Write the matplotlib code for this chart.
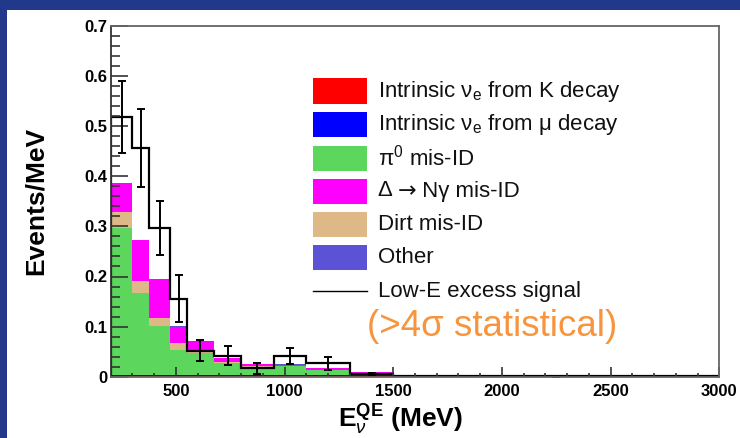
import matplotlib
matplotlib.use("Agg")
import matplotlib.pyplot as plt
from matplotlib.patches import Rectangle
from matplotlib.lines import Line2D
import numpy as np

plt.rcParams['font.family'] = ['Liberation Sans', 'DejaVu Sans']
plt.rcParams['mathtext.fontset'] = 'custom'
plt.rcParams['mathtext.rm'] = 'Liberation Sans'
plt.rcParams['mathtext.it'] = 'Liberation Sans:italic'
plt.rcParams['mathtext.bf'] = 'Liberation Sans:bold'

# ---- data ----
edges = [200, 300, 375, 475, 550, 675, 800, 950, 1100, 1300, 1500, 3000]
k_decay = [0.001] * 11
mu_decay = [0.002] * 11
pi0 = [0.293, 0.165, 0.098, 0.050, 0.044, 0.025, 0.017, 0.018, 0.010, 0.003, 0.0]
dirt = [0.033, 0.023, 0.017, 0.014, 0.003, 0.001, 0.001, 0.001, 0.001, 0.001, 0.0]
delta = [0.058, 0.081, 0.077, 0.033, 0.020, 0.008, 0.004, 0.002, 0.003, 0.002, 0.0]
other = [0.0005] * 10 + [0.0]
excess = [0.518, 0.456, 0.297, 0.156, 0.052, 0.042, 0.017, 0.042, 0.027, 0.005, 0.0005]
excess_err = [0.072, 0.078, 0.054, 0.046, 0.021, 0.019, 0.011, 0.016, 0.013, 0.002, 0.001]

labels = [r"Intrinsic ν$_\mathrm{e}$ from K decay",
          r"Intrinsic ν$_\mathrm{e}$ from μ decay",
          r"π$^\mathrm{0}$ mis-ID",
          ["Δ ", "→", " Nγ mis-ID"],
          "Dirt mis-ID",
          "Other",
          "Low-E excess signal"]
colors = ['#ff0000', '#0000ff', '#5cd65c', '#ff00ff', '#deb887', '#5b52d6']

W, H = 740, 438
fig = plt.figure(figsize=(W / 100, H / 100), dpi=100)
fig.patch.set_facecolor('#22398b')
fig.add_artist(Rectangle((7 / W, 0), 1, 1 - 10 / H, transform=fig.transFigure,
                         facecolor='white', edgecolor='none', zorder=0))

ax = fig.add_axes([110.7 / W, 1 - 376.7 / H, (719.3 - 110.7) / W, (376.7 - 26) / H])
ax.set_facecolor('white')

# stacked backgrounds (stack order bottom-up)
stack = [(k_decay, colors[0]), (mu_decay, colors[1]), (pi0, colors[2]),
         (dirt, colors[4]), (delta, colors[3]), (other, colors[5])]
base = np.zeros(len(edges) - 1)
for vals, c in stack:
    v = np.asarray(vals)
    ax.stairs(base + v, edges, baseline=base.copy(), fill=True, color=c, lw=0)
    base = base + v

# excess histogram
edges_a = np.asarray(edges)
centers = 0.5 * (edges_a[:-1] + edges_a[1:])
ax.stairs(excess, edges, color='black', lw=1.6)
ax.errorbar(centers, excess, yerr=excess_err, fmt='none', ecolor='black',
            elinewidth=1.4, capsize=3, capthick=1.4)

ax.set_xlim(200, 3000)
ax.set_ylim(0, 0.7)
ax.set_xticks([500, 1000, 1500, 2000, 2500, 3000])
ax.set_xticks(np.arange(300, 3000, 100), minor=True)
ax.set_yticks(np.arange(0, 0.71, 0.1))
ax.set_yticklabels(['0', '0.1', '0.2', '0.3', '0.4', '0.5', '0.6', '0.7'])
ax.set_yticks(np.arange(0, 0.7, 0.02), minor=True)
ax.tick_params(axis='both', which='both', direction='in', top=False, right=False,
               labelsize=12, width=1.2, color='#333333')
ax.tick_params(axis='y', which='major', length=12.5, pad=2.5)
ax.tick_params(axis='y', which='minor', length=6.5)
ax.tick_params(axis='x', which='major', length=7, pad=5)
ax.tick_params(axis='x', which='minor', length=3)
for lab in ax.get_xticklabels() + ax.get_yticklabels():
    lab.set_fontweight('bold')
for s in ax.spines.values():
    s.set_color('#666666')
    s.set_linewidth(1.3)
ax.spines['left'].set_color('#333333')

ax.set_ylabel('Events/MeV', fontsize=19, fontweight='bold', labelpad=26)
ax.set_xlabel(r'$\mathbf{E}_{\nu}^{\mathbf{QE}}$ (MeV)', fontsize=19,
              fontweight='bold', labelpad=3)
ax.xaxis.label.set_x((401 - 110.7) / (719.3 - 110.7))

# legend (manual)
def fx(px):
    return (px - 110.7) / (719.3 - 110.7)

def fy(py):
    return (376.7 - py) / (376.7 - 26)

LFS = 16
box_l, box_r, box_h = fx(313), fx(367), 25 / (376.7 - 26)
rows = [91, 124.5, 158, 191, 224, 257.5]
for py, c, lab in zip(rows, colors, labels[:6]):
    ax.add_patch(Rectangle((box_l, fy(py) - box_h / 2), box_r - box_l, box_h,
                           transform=ax.transAxes, facecolor=c, edgecolor='none',
                           zorder=5))
    if isinstance(lab, list):
        t = ax.text(fx(377.7), fy(py), lab[0], transform=ax.transAxes, fontsize=LFS,
                    va='center', ha='left', color='#111111', zorder=5)
        t = ax.annotate(lab[1], xy=(1, 0.5), xycoords=t, fontsize=LFS,
                        va='center', ha='left', color='#111111', zorder=5,
                        family='DejaVu Sans')
        ax.annotate(lab[2], xy=(1, 0.5), xycoords=t, fontsize=LFS,
                    va='center', ha='left', color='#111111', zorder=5)
    else:
        ax.text(fx(377.7), fy(py), lab, transform=ax.transAxes, fontsize=LFS,
                va='center', ha='left', color='#111111', zorder=5)
ax.add_line(Line2D([box_l, box_r], [fy(291), fy(291)], transform=ax.transAxes,
                   color='black', lw=1.0, zorder=5))
ax.text(fx(377.7), fy(291), labels[6], transform=ax.transAxes, fontsize=LFS,
        va='center', ha='left', color='#111111', zorder=5)

ax.text(fx(367), fy(327), '(>4σ statistical)', transform=ax.transAxes,
        fontsize=26.5, color='#f7953f', va='center', ha='left', zorder=5)

fig.savefig('out.png', dpi=100, facecolor=fig.get_facecolor())
